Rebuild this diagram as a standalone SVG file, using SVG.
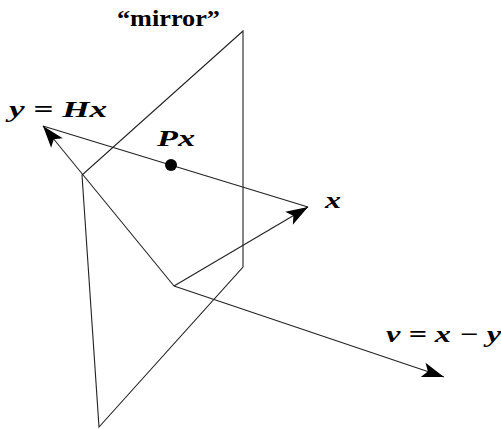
<svg xmlns="http://www.w3.org/2000/svg" width="501" height="429" viewBox="0 0 501 429">
<defs>
<marker id="arr" markerUnits="userSpaceOnUse" markerWidth="30" markerHeight="20" viewBox="-24 -10 26 20" refX="0" refY="0" orient="auto" overflow="visible">
<path d="M0,0 L-22,-7.5 L-17,0 L-22,7.5 z" fill="#000"/>
</marker>
</defs>
<style>
.ln{fill:none;stroke:#222;stroke-width:1.1}
.math{font-family:"Liberation Serif","DejaVu Serif",serif;font-style:italic;font-weight:bold;fill:#000;font-size:23px}
.lbl{font-family:"Liberation Serif","DejaVu Serif",serif;font-weight:bold;fill:#000;font-size:24px}
</style>
<rect width="501" height="429" fill="#fff"/>
<g id="mirror">
<polygon class="ln" points="243,31 82,175 99,427 243,267"/>
<text class="lbl" x="117" y="26" textLength="103" lengthAdjust="spacingAndGlyphs">“mirror”</text>
</g>
<g id="connectors">
<line class="ln" x1="43" y1="126" x2="308" y2="207"/>
<line class="ln" x1="174" y1="286" x2="43" y2="126" marker-end="url(#arr)"/>
<line class="ln" x1="174" y1="286" x2="308" y2="207" marker-end="url(#arr)"/>
<line class="ln" x1="174" y1="286" x2="444" y2="377" marker-end="url(#arr)"/>
</g>
<g id="node-y">
<text class="math" x="9" y="117" textLength="98" lengthAdjust="spacingAndGlyphs">y = Hx</text>
</g>
<g id="node-Px">
<circle cx="171" cy="165" r="6" fill="#000"/>
<text class="math" x="157" y="146" textLength="38" lengthAdjust="spacingAndGlyphs">Px</text>
</g>
<g id="node-x">
<text class="math" x="325" y="208" textLength="16" lengthAdjust="spacingAndGlyphs">x</text>
</g>
<g id="node-v">
<text class="math" x="386" y="342" textLength="115" lengthAdjust="spacingAndGlyphs">v = x − y</text>
</g>
</svg>
